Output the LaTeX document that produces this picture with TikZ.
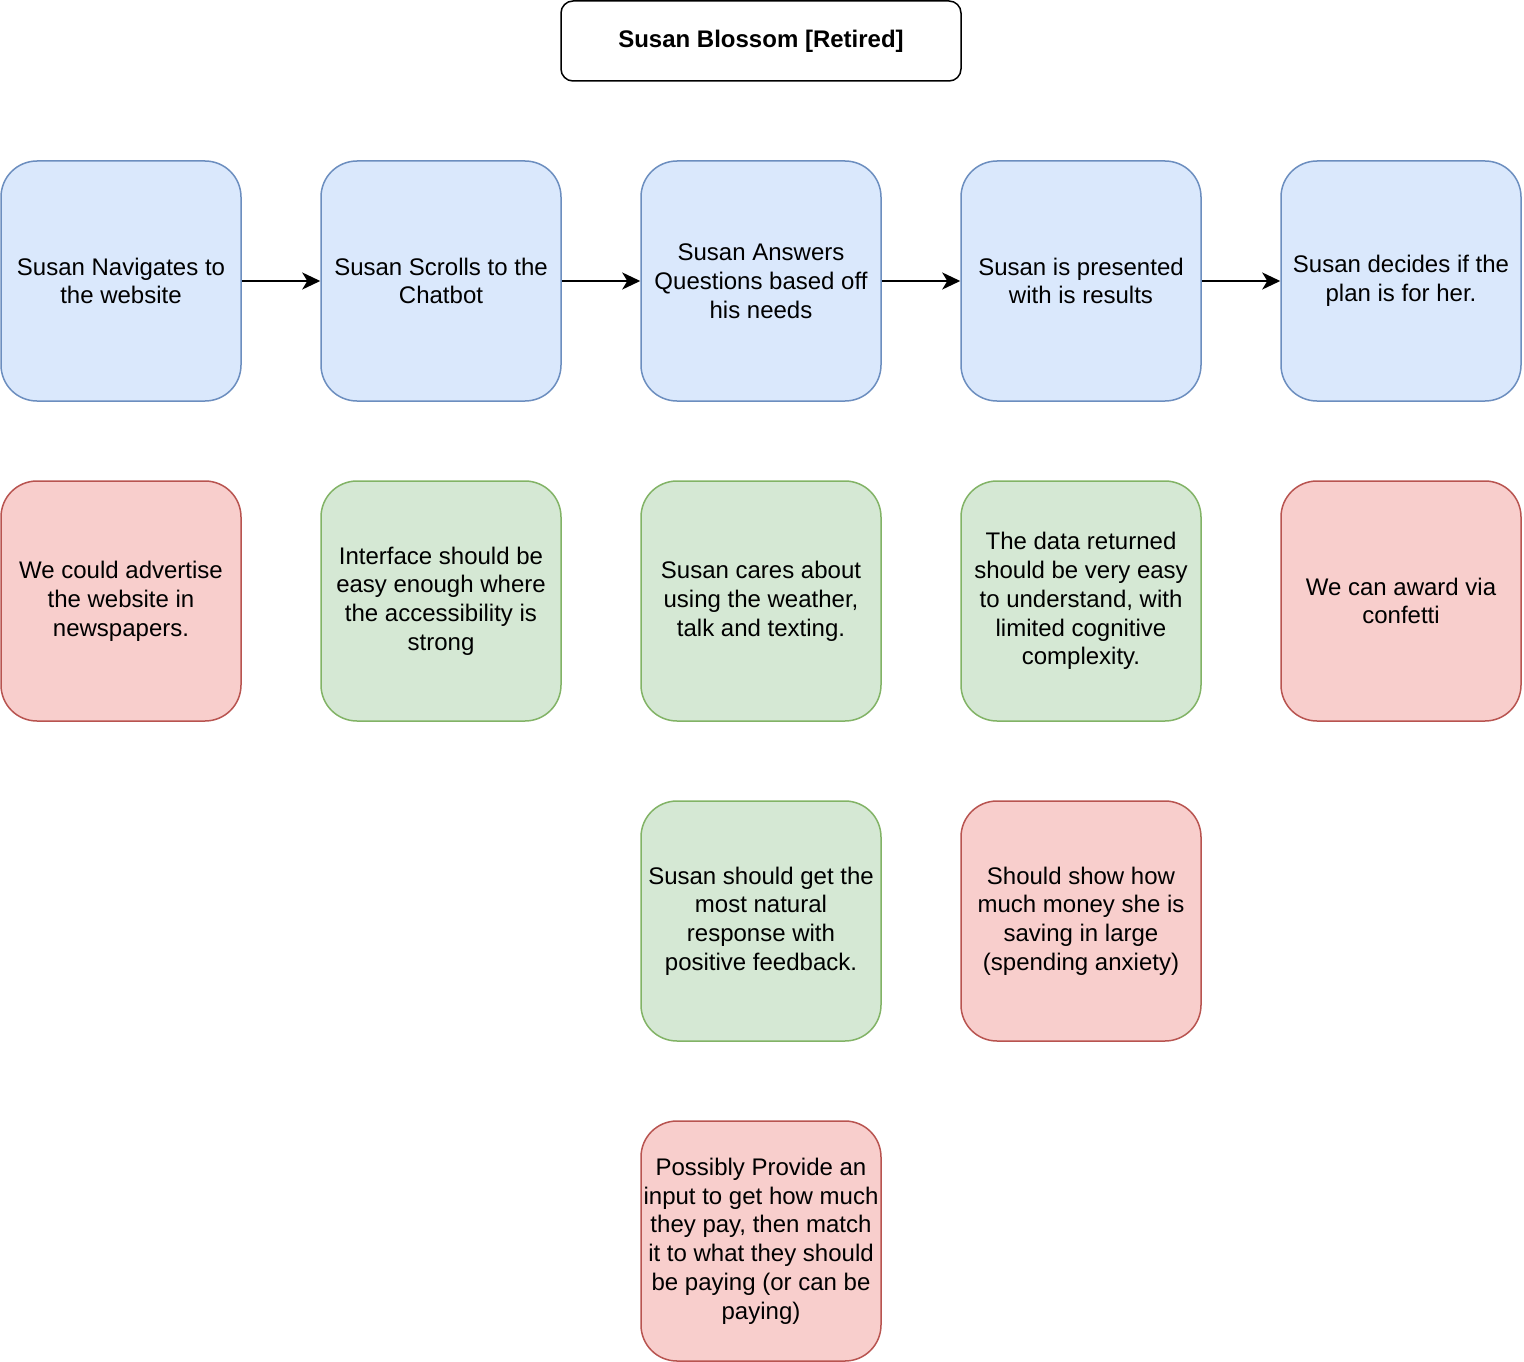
\documentclass[tikz,border=0pt]{standalone}
\usepackage{fontspec}
\setmainfont{Liberation Sans}
\usetikzlibrary{arrows.meta}
\definecolor{bfill}{HTML}{DAE8FC}\definecolor{bline}{HTML}{6C8EBF}
\definecolor{gfill}{HTML}{D5E8D4}\definecolor{gline}{HTML}{82B366}
\definecolor{rfill}{HTML}{F8CECC}\definecolor{rline}{HTML}{B85450}
\begin{document}
\begin{tikzpicture}[x=1pt,y=-1pt,
  card/.style={minimum width=240pt,minimum height=240pt,rounded corners=36pt,line width=1.5pt,inner sep=0pt,align=center,font=\fontsize{24}{28.8}\selectfont},
  bluecard/.style={card,fill=bfill,draw=bline},
  greencard/.style={card,fill=gfill,draw=gline},
  redcard/.style={card,fill=rfill,draw=rline},
  flow/.style={line width=2pt,-{Stealth[length=18pt,width=17pt,inset=5pt]}}]
\useasboundingbox (0,0) rectangle (1524,1362);
\node[draw,line width=1.5pt,rounded corners=12pt,minimum width=400pt,minimum height=80pt,font=\fontsize{24}{28.8}\selectfont\bfseries] (title) at (761,41) {Susan Blossom [Retired]};
\node[bluecard] (b1) at (121,281) {Susan Navigates to\\the website};
\node[bluecard] (b2) at (441,281) {Susan Scrolls to the\\Chatbot};
\node[bluecard] (b3) at (761,281) {Susan Answers\\Questions based off\\his needs};
\node[bluecard] (b4) at (1081,281) {Susan is presented\\with is results};
\node[bluecard] (b5) at (1401,281) {Susan decides if the\\plan is for her.};
\node[redcard] (r1) at (121,601) {We could advertise\\the website in\\newspapers.};
\node[greencard] (g2) at (441,601) {Interface should be\\easy enough where\\the accessibility is\\strong};
\node[greencard] (g3) at (761,601) {Susan cares about\\using the weather,\\talk and texting.};
\node[greencard] (g4) at (1081,601) {The data returned\\should be very easy\\to understand, with\\limited cognitive\\complexity.};
\node[redcard] (r5) at (1401,601) {We can award via\\confetti};
\node[greencard] (g33) at (761,921) {Susan should get the\\most natural\\response with\\positive feedback.};
\node[redcard] (r43) at (1081,921) {Should show how\\much money she is\\saving in large\\(spending anxiety)};
\node[redcard] (r34) at (761,1241) {Possibly Provide an\\input to get how much\\they pay, then match\\it to what they should\\be paying (or can be\\paying)};
\draw[flow] (b1) -- (b2);
\draw[flow] (b2) -- (b3);
\draw[flow] (b3) -- (b4);
\draw[flow] (b4) -- (b5);
\end{tikzpicture}
\end{document}
